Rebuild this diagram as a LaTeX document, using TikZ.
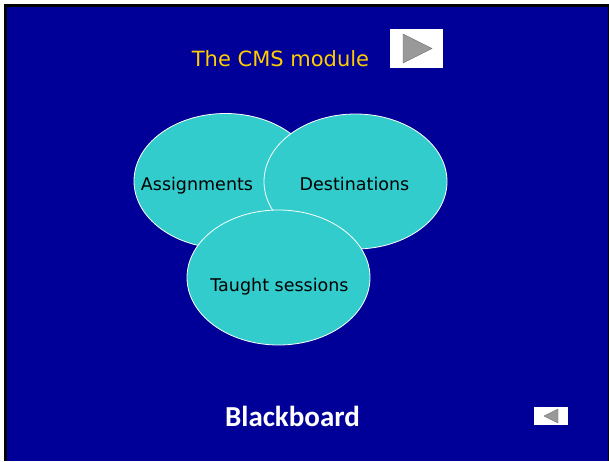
\documentclass[tikz,border=0pt]{standalone}
\usetikzlibrary{shapes.geometric}
\usepackage{fontspec}
\setmainfont{DejaVu Sans}
\newfontfamily\bbfont{Carlito}
\definecolor{slideblue}{RGB}{0,0,153}
\definecolor{teal}{RGB}{51,204,204}
\definecolor{titleyellow}{RGB}{255,204,0}
\definecolor{btngray}{RGB}{153,153,153}
\begin{document}
\begin{tikzpicture}[x=1pt,y=-1pt,
  bubble/.style={ellipse, fill=teal, draw=white, line width=0.8pt, minimum width=183pt, minimum height=135pt, inner sep=0pt},
  bubbletext/.style={anchor=base, font=\fontsize{17.5}{20}\selectfont, text=black},
  navbox/.style={fill=white},
  navtri/.style={fill=btngray, draw=btngray!70!black, line width=0.3pt}]
\useasboundingbox (0,0) rectangle (609,461);
\fill[white] (0,0) rectangle (609,461);
\fill[black] (4,4) rectangle (609,461);
\fill[slideblue] (6.5,6.5) rectangle (607.5,461);
% title
\node[anchor=base, text=titleyellow, font=\fontsize{21}{24}\selectfont] (title) at (280.5,66) {The CMS module};
% next button
\fill[navbox] (390,29) rectangle (443,68);
\filldraw[navtri] (403,34) -- (432,48.5) -- (403,63) -- cycle;
% ellipses
\node[bubble] (assign) at (225.5,181) {};
\node[bubble] (dest) at (355.5,181.5) {};
\node[bubble] (taught) at (278.5,277.5) {};
\node[bubbletext] (tassign) at (197,190.7) {Assignments};
\node[bubbletext] (tdest) at (354.5,190.7) {Destinations};
\node[bubbletext] (ttaught) at (279.5,291.7) {Taught sessions};
% footer
\node[anchor=base, text=white, font=\bbfont\bfseries\fontsize{29}{32}\selectfont] (bb) at (292.5,426.7) {Blackboard};
% back button
\fill[navbox] (534,407) rectangle (568,425);
\filldraw[navtri] (558,409) -- (544,416) -- (558,423) -- cycle;
\end{tikzpicture}
\end{document}
